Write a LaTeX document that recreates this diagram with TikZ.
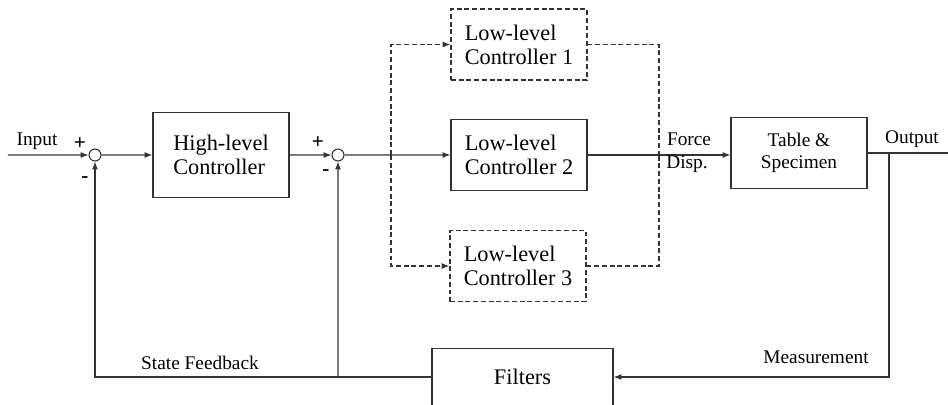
\documentclass[tikz,border=0pt]{standalone}
\usepackage{fontspec}
\setmainfont{Liberation Serif}
\usetikzlibrary{arrows.meta}

\tikzset{
  blk/.style={draw, minimum width=77.4pt, minimum height=40.4pt, align=left,
    font=\fontsize{12.7}{13.6}\selectfont},
  dblk/.style={blk, dash pattern=on 2.8pt off 1.6pt},
  sumnode/.style={draw, circle, minimum size=6.8pt},
  lbl/.style={font=\fontsize{11}{12}\selectfont},
  sgn/.style={font=\fontsize{12}{12}\selectfont\bfseries},
  dsh/.style={dash pattern=on 2.8pt off 1.6pt},
}

\begin{document}
\begin{tikzpicture}[scale=0.2, line width=0.6pt, draw=black!80,
    >={Latex[length=4.5pt,width=3.4pt]}]
        \tikzstyle{every node}+=[inner sep=0pt]
        \useasboundingbox (0,0) rectangle (94.8,-40.4);
        % blocks
        \node [sumnode] (sum1) at (9.5,-15.5) {};
        \node [sumnode] (sum2) at (33.8,-15.5) {};
        \node [blk, minimum height=48.4pt] (hl) at (22.1,-15.5) {High-level\\Controller};
        \node [dblk] (ll1) at (51.9,-4.45) {Low-level\\Controller 1};
        \node [blk] (ll2) at (51.9,-15.5) {Low-level\\Controller 2};
        \node [dblk] (ll3) at (51.8,-26.6) {Low-level\\Controller 3};
        \node [blk, align=center, font=\fontsize{11}{12.4}\selectfont] (tab) at (79.9,-15.3) {Table \&\\Specimen};
        \node [blk, minimum width=103pt, minimum height=32.4pt] (filt) at (52.25,-37.7) {Filters};
        % free ends
        \coordinate (in) at (0.8,-15.5);
        \coordinate (out) at (94.8,-15.3);
        \coordinate (split) at (39.1,-15.5);
        \coordinate (merge) at (65.9,-15.5);
        \coordinate (branch) at (88.9,-15.3);
        \coordinate (fb2) at (33.8,-37.7);
        % forward path
        \draw [->] (in) -- (sum1);
        \draw [->] (sum1) -- (hl);
        \draw [->] (hl) -- (sum2);
        \draw [->] (sum2) -- (ll2);
        \draw [->] (ll2.east) -- (tab.west |- ll2.east);
        \draw (tab.east |- out) -- (out);
        % dashed paths
        \draw [dsh, ->] (split) |- (ll1);
        \draw [dsh, ->] (split) |- (ll3);
        \draw [dsh] (ll1) -| (merge);
        \draw [dsh] (ll3) -| (merge);
        % feedback
        \draw [->] (branch) |- (filt);
        \draw [->] (filt) -| (sum1);
        \draw [->] (fb2) -- (sum2);
        % labels
        \node [lbl] (inlbl) at (3.7,-14.1) {Input};
        \node [lbl] (outlbl) at (91.2,-13.9) {Output};
        \node [lbl] (force) at (68.9,-13.9) {Force};
        \node [lbl] (disp) at (68.7,-16.4) {Disp.};
        \node [lbl] (sfb) at (20.0,-36.3) {State Feedback};
        \node [lbl] (meas) at (81.6,-35.7) {Measurement};
        \node [sgn] (p1) at (8.0,-14.4) {+};
        \node [sgn] (m1) at (8.5,-18.0) {-};
        \node [sgn] (p2) at (31.8,-14.3) {+};
        \node [sgn] (m2) at (32.6,-17.3) {-};
\end{tikzpicture}
\end{document}
